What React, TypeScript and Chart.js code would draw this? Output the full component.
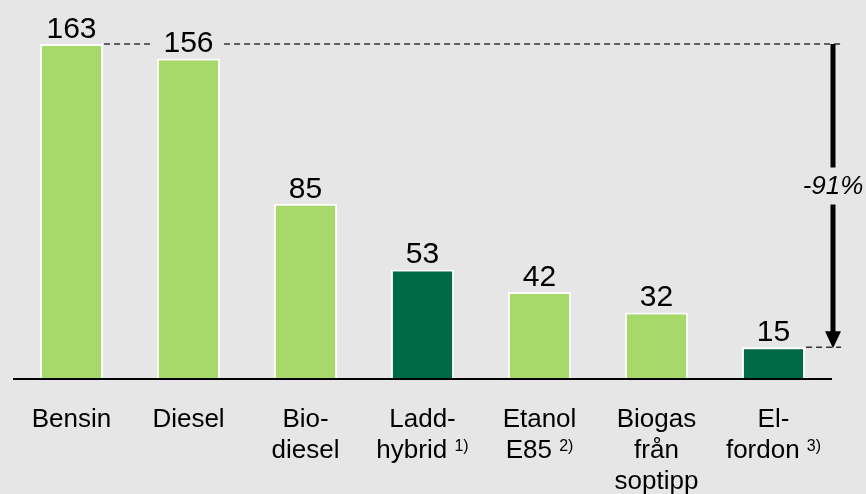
import React, { useEffect, useRef } from "react";
import { Chart, registerables } from "chart.js";

Chart.register(...registerables);

// ---- data ----
const categoryLines: string[][] = [
  ["Bensin"],
  ["Diesel"],
  ["Bio-", "diesel"],
  ["Ladd-", "hybrid"],
  ["Etanol", "E85"],
  ["Biogas", "från", "soptipp"],
  ["El-", "fordon"],
];
const footnotes: string[] = ["", "", "", "1)", "2)", "", "3)"];
const values: number[] = [163, 156, 85, 53, 42, 32, 15];
const electrified: boolean[] = [false, false, false, true, false, false, true];

// ---- style ----
const BG = "#e6e6e6";
const LIGHT = "#a6d96a";
const DARK = "#006a47";
const FONT = '"Liberation Sans", Arial, sans-serif';

const overlayPlugin = {
  id: "overlay",
  afterDatasetsDraw(chart: any) {
    const ctx: CanvasRenderingContext2D = chart.ctx;
    const { left, right } = chart.chartArea;
    const ys = chart.scales.y;
    const meta = chart.getDatasetMeta(0);
    const base = ys.getPixelForValue(0);
    ctx.save();

    // axis line
    ctx.strokeStyle = "#000";
    ctx.lineWidth = 2;
    ctx.beginPath();
    ctx.moveTo(left, base + 1);
    ctx.lineTo(right, base + 1);
    ctx.stroke();

    // reference: first (max) and last value
    const first = values[0];
    const last = values[values.length - 1];
    const yFirst = ys.getPixelForValue(first);
    const yLast = ys.getPixelForValue(last);
    const arrowX = right + 1;
    const b0 = meta.data[0];
    const bl = meta.data[values.length - 1];

    ctx.strokeStyle = "#333";
    ctx.lineWidth = 1.5;
    ctx.setLineDash([6, 4]);
    ctx.beginPath();
    ctx.moveTo(b0.x + b0.width / 2 + 1, yFirst);
    ctx.lineTo(arrowX + 8, yFirst);
    ctx.moveTo(bl.x + bl.width / 2 + 1, yLast);
    ctx.lineTo(arrowX + 8, yLast);
    ctx.stroke();
    ctx.setLineDash([]);

    // value labels
    ctx.font = `30px ${FONT}`;
    ctx.textAlign = "center";
    ctx.textBaseline = "alphabetic";
    meta.data.forEach((bar: any, i: number) => {
      const txt = String(values[i]);
      const w = ctx.measureText(txt).width;
      const by = bar.y - 6;
      ctx.fillStyle = BG;
      ctx.fillRect(bar.x - w / 2 - 10, by - 24, w + 20, 28);
      ctx.fillStyle = "#000";
      ctx.fillText(txt, bar.x, by);
    });

    // arrow with percentage
    const pct = Math.round(((last - first) / first) * 100);
    const tc = yFirst + 0.47 * (yLast - yFirst);
    const head = 16;
    ctx.strokeStyle = "#000";
    ctx.lineWidth = 5;
    ctx.beginPath();
    ctx.moveTo(arrowX, yFirst);
    ctx.lineTo(arrowX, tc - 19);
    ctx.moveTo(arrowX, tc + 18);
    ctx.lineTo(arrowX, yLast - head + 1);
    ctx.stroke();
    ctx.fillStyle = "#000";
    ctx.beginPath();
    ctx.moveTo(arrowX - 8, yLast - head);
    ctx.lineTo(arrowX + 8, yLast - head);
    ctx.lineTo(arrowX, yLast + 1);
    ctx.closePath();
    ctx.fill();

    ctx.font = `italic 26px ${FONT}`;
    ctx.textAlign = "center";
    ctx.textBaseline = "middle";
    ctx.fillText(`${pct}%`, arrowX, tc);

    // category labels
    ctx.textBaseline = "alphabetic";
    ctx.textAlign = "left";
    meta.data.forEach((bar: any, i: number) => {
      const lines = categoryLines[i];
      lines.forEach((line, j) => {
        const by = base + 49 + j * 31;
        ctx.font = `26px ${FONT}`;
        const mw = ctx.measureText(line).width;
        const sp = ctx.measureText(" ").width;
        const note = j === lines.length - 1 ? footnotes[i] : "";
        ctx.font = `16px ${FONT}`;
        const nw = note ? ctx.measureText(note).width + sp : 0;
        const start = bar.x - (mw + nw) / 2;
        ctx.font = `26px ${FONT}`;
        ctx.fillStyle = "#000";
        ctx.fillText(line, start, by);
        if (note) {
          ctx.font = `16px ${FONT}`;
          ctx.fillText(note, start + mw + sp, by - 7);
        }
      });
    });

    ctx.restore();
  },
};

export default function App() {
  const ref = useRef<HTMLCanvasElement | null>(null);
  useEffect(() => {
    if (!ref.current) return;
    const chart = new Chart(ref.current, {
      type: "bar",
      data: {
        labels: categoryLines.map((l) => l.join(" ")),
        datasets: [
          {
            data: values,
            backgroundColor: electrified.map((e) => (e ? DARK : LIGHT)),
            borderColor: "#ffffff",
            borderWidth: 2,
            barPercentage: 0.54,
            categoryPercentage: 1,
          },
        ],
      },
      options: {
        animation: false,
        responsive: false,
        maintainAspectRatio: false,
        layout: { padding: { left: 13, right: 34, top: 0, bottom: 116 } },
        plugins: { legend: { display: false }, tooltip: { enabled: false } },
        scales: {
          x: { display: false },
          y: { display: false, min: 0, max: 184.5 },
        },
      },
      plugins: [overlayPlugin],
    });
    return () => chart.destroy();
  }, []);
  return (
    <div
      style={{
        position: "fixed",
        left: 0,
        top: 0,
        width: 866,
        height: 494,
        background: BG,
      }}
    >
      <canvas ref={ref} width={866} height={494} />
    </div>
  );
}
